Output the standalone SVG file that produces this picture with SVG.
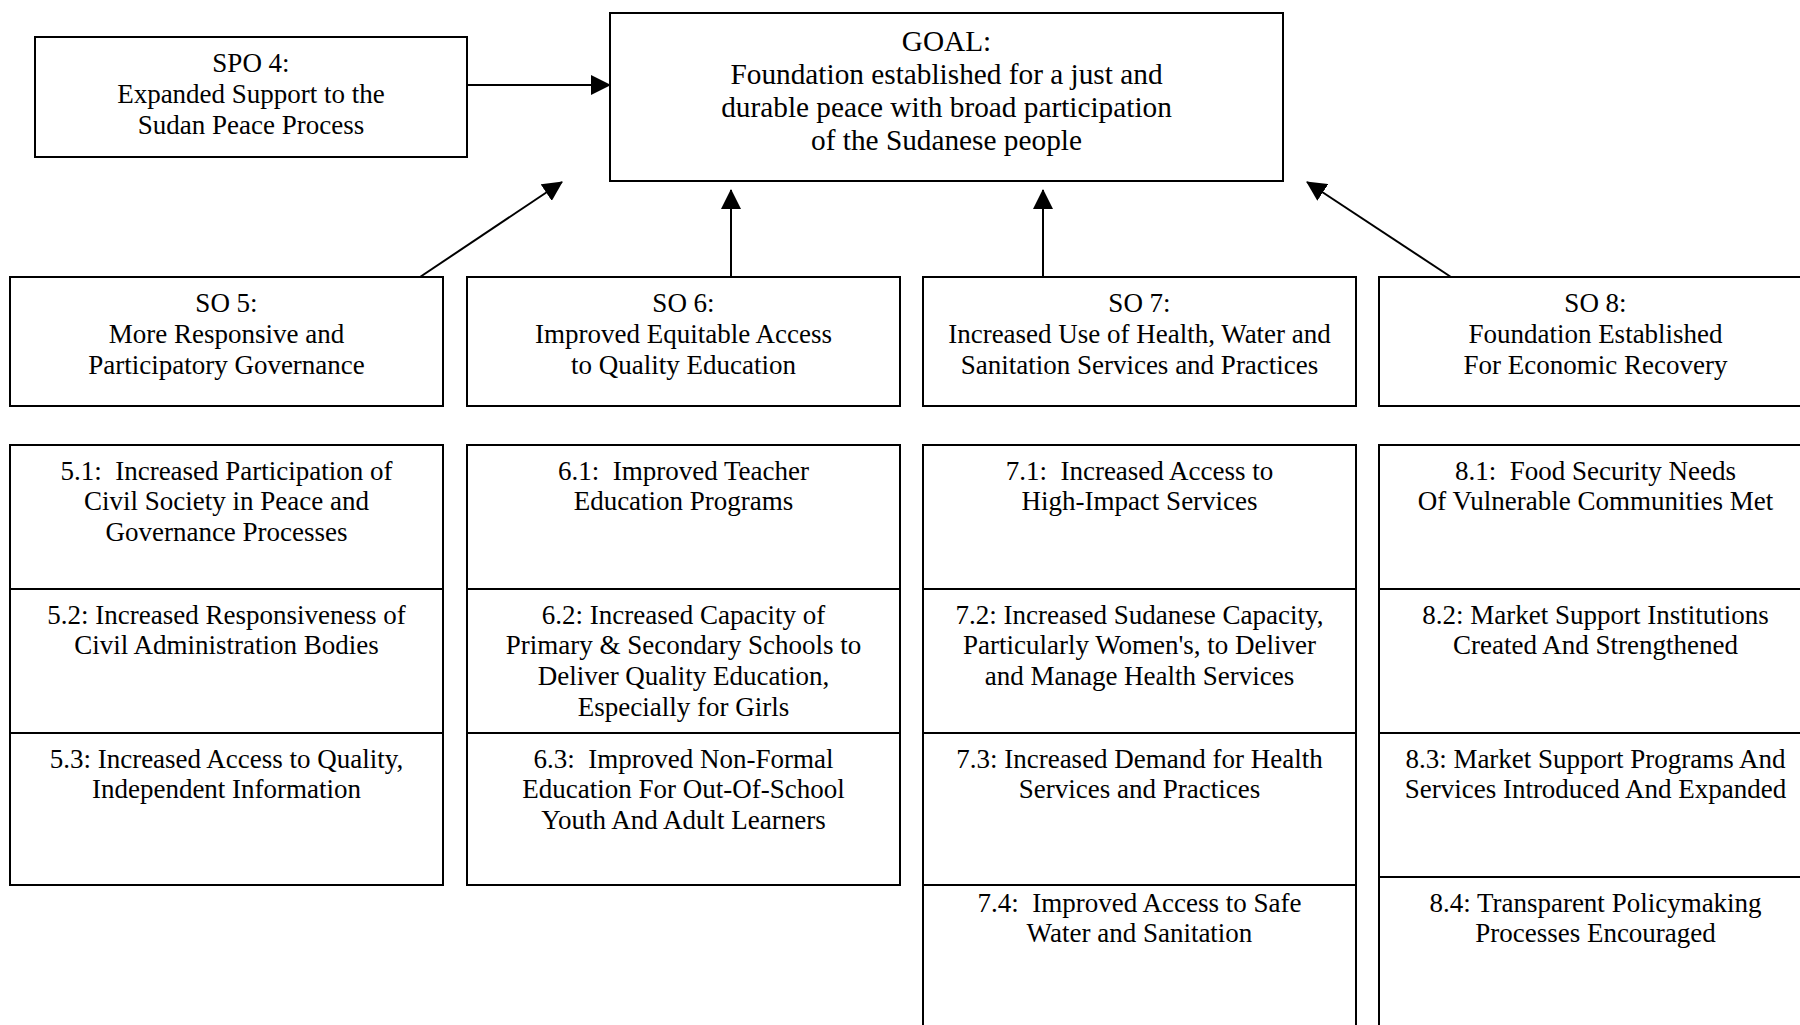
<svg xmlns="http://www.w3.org/2000/svg" width="1800" height="1025" viewBox="0 0 1800 1025" xml:space="preserve">
<style>
  .box { fill: #ffffff; stroke: #000000; stroke-width: 2; }
  text { font-family: "Liberation Serif", "Times New Roman", serif; font-size: 27px; fill: #000000; text-anchor: middle; white-space: pre; }
  .goal text { font-size: 29.3px; }
  .conn { stroke: #000000; stroke-width: 2; fill: none; marker-end: url(#arrow); }
</style>
<defs>
  <marker id="arrow" markerUnits="userSpaceOnUse" markerWidth="20" markerHeight="20" refX="19" refY="10" orient="auto">
    <path d="M0,0 L20,10 L0,20 Z" fill="#000000"/>
  </marker>
</defs>
<rect x="0" y="0" width="1800" height="1025" fill="#ffffff"/>

<g id="spo4">
  <rect class="box" x="35" y="37" width="432" height="120"/>
  <text x="251" y="72">SPO 4:</text>
  <text x="251" y="102.8">Expanded Support to the</text>
  <text x="251" y="133.6">Sudan Peace Process</text>
</g>

<g id="goal" class="goal">
  <rect class="box" x="610" y="13" width="673" height="168"/>
  <text x="946.5" y="51">GOAL:</text>
  <text x="946.5" y="84">Foundation established for a just and</text>
  <text x="946.5" y="117">durable peace with broad participation</text>
  <text x="946.5" y="150">of the Sudanese people</text>
</g>

<g id="so5">
  <rect class="box" x="10" y="277" width="433" height="129"/>
  <text x="226.5" y="312">SO 5:</text>
  <text x="226.5" y="343">More Responsive and</text>
  <text x="226.5" y="373.5">Participatory Governance</text>
</g>
<g id="so6">
  <rect class="box" x="467" y="277" width="433" height="129"/>
  <text x="683.5" y="312">SO 6:</text>
  <text x="683.5" y="343">Improved Equitable Access</text>
  <text x="683.5" y="373.5">to Quality Education</text>
</g>
<g id="so7">
  <rect class="box" x="923" y="277" width="433" height="129"/>
  <text x="1139.5" y="312">SO 7:</text>
  <text x="1139.5" y="343">Increased Use of Health, Water and</text>
  <text x="1139.5" y="373.5">Sanitation Services and Practices</text>
</g>
<g id="so8">
  <rect class="box" x="1379" y="277" width="433" height="129"/>
  <text x="1595.5" y="312">SO 8:</text>
  <text x="1595.5" y="343">Foundation Established</text>
  <text x="1595.5" y="373.5">For Economic Recovery</text>
</g>

<g id="ir51">
  <rect class="box" x="10" y="445" width="433" height="144"/>
  <text x="226.5" y="479.5">5.1:  Increased Participation of</text>
  <text x="226.5" y="510.4">Civil Society in Peace and</text>
  <text x="226.5" y="541.3">Governance Processes</text>
</g>
<g id="ir52">
  <rect class="box" x="10" y="589" width="433" height="144"/>
  <text x="226.5" y="623.5">5.2: Increased Responsiveness of</text>
  <text x="226.5" y="654.4">Civil Administration Bodies</text>
</g>
<g id="ir53">
  <rect class="box" x="10" y="733" width="433" height="152"/>
  <text x="226.5" y="767.5">5.3: Increased Access to Quality,</text>
  <text x="226.5" y="798.4">Independent Information</text>
</g>

<g id="ir61">
  <rect class="box" x="467" y="445" width="433" height="144"/>
  <text x="683.5" y="479.5">6.1:  Improved Teacher</text>
  <text x="683.5" y="510.4">Education Programs</text>
</g>
<g id="ir62">
  <rect class="box" x="467" y="589" width="433" height="144"/>
  <text x="683.5" y="623.5">6.2: Increased Capacity of</text>
  <text x="683.5" y="654.4">Primary &amp; Secondary Schools to</text>
  <text x="683.5" y="685.3">Deliver Quality Education,</text>
  <text x="683.5" y="716.2">Especially for Girls</text>
</g>
<g id="ir63">
  <rect class="box" x="467" y="733" width="433" height="152"/>
  <text x="683.5" y="767.5">6.3:  Improved Non-Formal</text>
  <text x="683.5" y="798.4">Education For Out-Of-School</text>
  <text x="683.5" y="829.3">Youth And Adult Learners</text>
</g>

<g id="ir71">
  <rect class="box" x="923" y="445" width="433" height="144"/>
  <text x="1139.5" y="479.5">7.1:  Increased Access to</text>
  <text x="1139.5" y="510.4">High-Impact Services</text>
</g>
<g id="ir72">
  <rect class="box" x="923" y="589" width="433" height="144"/>
  <text x="1139.5" y="623.5">7.2: Increased Sudanese Capacity,</text>
  <text x="1139.5" y="654.4">Particularly Women's, to Deliver</text>
  <text x="1139.5" y="685.3">and Manage Health Services</text>
</g>
<g id="ir73">
  <rect class="box" x="923" y="733" width="433" height="152"/>
  <text x="1139.5" y="767.5">7.3: Increased Demand for Health</text>
  <text x="1139.5" y="798.4">Services and Practices</text>
</g>
<g id="ir74">
  <rect class="box" x="923" y="885" width="433" height="160"/>
  <text x="1139.5" y="911.5">7.4:  Improved Access to Safe</text>
  <text x="1139.5" y="942.4">Water and Sanitation</text>
</g>

<g id="ir81">
  <rect class="box" x="1379" y="445" width="433" height="144"/>
  <text x="1595.5" y="479.5">8.1:  Food Security Needs</text>
  <text x="1595.5" y="510.4">Of Vulnerable Communities Met</text>
</g>
<g id="ir82">
  <rect class="box" x="1379" y="589" width="433" height="144"/>
  <text x="1595.5" y="623.5">8.2: Market Support Institutions</text>
  <text x="1595.5" y="654.4">Created And Strengthened</text>
</g>
<g id="ir83">
  <rect class="box" x="1379" y="733" width="433" height="144"/>
  <text x="1595.5" y="767.5">8.3: Market Support Programs And</text>
  <text x="1595.5" y="798.4">Services Introduced And Expanded</text>
</g>
<g id="ir84">
  <rect class="box" x="1379" y="877" width="433" height="168"/>
  <text x="1595.5" y="911.5">8.4: Transparent Policymaking</text>
  <text x="1595.5" y="942.4">Processes Encouraged</text>
</g>

<g id="connectors">
  <line class="conn" x1="467" y1="85" x2="610" y2="85"/>
  <line class="conn" x1="420" y1="277" x2="562" y2="182"/>
  <line class="conn" x1="731" y1="277" x2="731" y2="190"/>
  <line class="conn" x1="1043" y1="277" x2="1043" y2="190"/>
  <line class="conn" x1="1451" y1="277" x2="1307" y2="182"/>
</g>
</svg>
